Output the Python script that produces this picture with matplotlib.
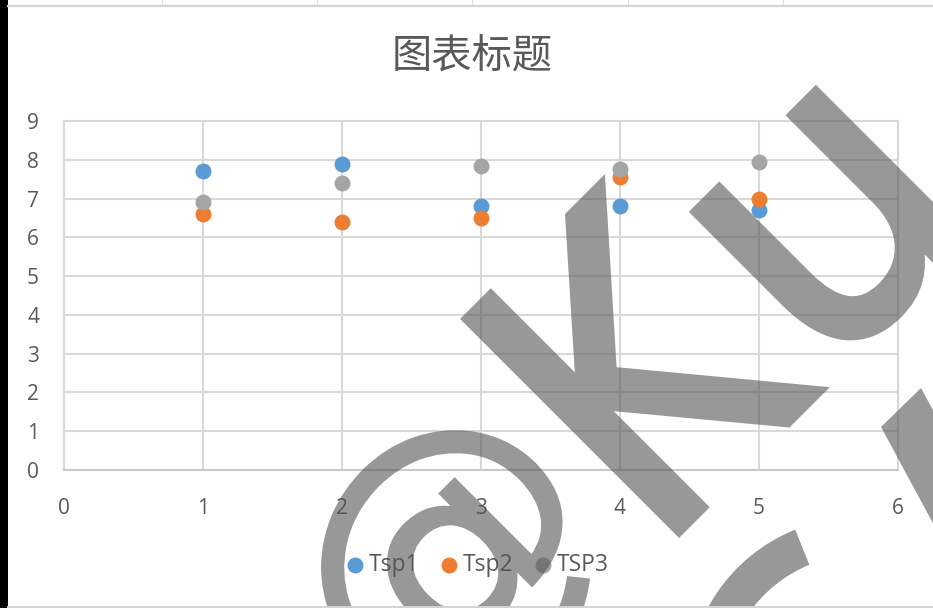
import numpy as np
import matplotlib
matplotlib.use("Agg")
import matplotlib.pyplot as plt
from matplotlib.lines import Line2D
from matplotlib.patches import PathPatch, Rectangle, Wedge, Polygon
from matplotlib.textpath import TextPath
from matplotlib.font_manager import FontProperties
from matplotlib.transforms import Affine2D

# ---- data ----
x_values = [1, 2, 3, 4, 5]
series_names = ["Tsp1", "Tsp2", "TSP3"]
tsp1 = [7.7, 7.9, 6.8, 6.8, 6.7]
tsp2 = [6.6, 6.4, 6.5, 7.55, 7.0]
tsp3 = [6.9, 7.4, 7.85, 7.75, 7.95]
series_colors = ["#5B9BD5", "#ED7D31", "#A5A5A5"]
x_ticks = [0, 1, 2, 3, 4, 5, 6]
y_ticks = [0, 1, 2, 3, 4, 5, 6, 7, 8, 9]
title_text = "图表标题"

W, H = 933, 608
TXT = "#595959"
GRID = "#d9d9d9"

plt.rcParams["font.family"] = ["Open Sans", "DejaVu Sans"]

fig = plt.figure(figsize=(W / 100, H / 100), dpi=100)
fig.patch.set_facecolor("white")

ax = fig.add_axes([64 / W, 1 - 470 / H, (898 - 64) / W, (470 - 121) / H])
ax.set_facecolor("none")
ax.set_xlim(0, 6)
ax.set_ylim(0, 9)
ax.set_xticks(x_ticks)
ax.set_yticks(y_ticks)
ax.grid(True, color=GRID, linewidth=1.5, zorder=0)
ax.set_axisbelow(True)
for side in ["top", "right", "left"]:
    ax.spines[side].set_color(GRID)
    ax.spines[side].set_linewidth(1.5)
ax.spines["bottom"].set_color("#c9c9c9")
ax.spines["bottom"].set_linewidth(1.5)
ax.tick_params(axis="both", length=0, labelsize=15, labelcolor=TXT)
ax.tick_params(axis="y", pad=18)
ax.tick_params(axis="x", pad=20)

for vals, name, col in zip([tsp1, tsp2, tsp3], series_names, series_colors):
    ax.scatter(x_values, vals, s=132, color=col, label=name, zorder=3,
               linewidths=0, clip_on=False)

fig.text(472 / W, 1 - 56 / H, title_text, ha="center", va="center",
         fontsize=29, color=TXT, family=["Noto Sans CJK SC", "DejaVu Sans"])

leg = ax.legend(loc="center", bbox_to_anchor=(476 / W, 1 - 565 / H),
                bbox_transform=fig.transFigure, ncol=3, frameon=False,
                fontsize=16.5, handletextpad=0.1, columnspacing=0.8,
                handlelength=1.0, borderpad=0)
for t in leg.get_texts():
    t.set_color(TXT)

# ---- window frame around the chart ----
fig.add_artist(Rectangle((0, 0), 8 / W, 1, transform=fig.transFigure,
                         facecolor="black", edgecolor="none", zorder=20))
fig.add_artist(Line2D([8 / W, 1], [1 - 5.5 / H] * 2, transform=fig.transFigure,
                      color="#d4d4d4", linewidth=1.6, zorder=20))
for cx in [162, 317, 472, 628, 783]:
    fig.add_artist(Line2D([cx / W] * 2, [1 - 5 / H, 1], transform=fig.transFigure,
                          color="#dcdcdc", linewidth=0.8, zorder=20))
fig.add_artist(Line2D([8 / W, 1], [1 - 607 / H] * 2, transform=fig.transFigure,
                      color="#d4d4d4", linewidth=1.4, zorder=20))

# ---- translucent overlay lettering ----
wm = plt.figure(figsize=(W / 100, H / 100), dpi=100)
wm.patch.set_alpha(0)
wax = wm.add_axes([0, 0, 1, 1])
wax.set_xlim(0, W)
wax.set_ylim(H, 0)
wax.axis("off")
wax.patch.set_alpha(0)
wm_color = (0.33, 0.33, 0.33)
glyphs = [
    # char, centre (px), width, height, extra stroke
    ("@", (454, 568), 262, None, 1.5),
    ("K", (643, 355), 198, 300, 7.0),
    ("u", (830, 226), 170, 220, 7.0),
]
fp = FontProperties(family="DejaVu Sans")
for ch, (cx, cy), tw, th, lw in glyphs:
    tp = TextPath((0, 0), ch, size=1, prop=fp)
    ext = tp.get_extents()
    if th is None:
        th = tw * ext.height / ext.width
    tr = (Affine2D()
          .translate(-(ext.x0 + ext.width / 2), -(ext.y0 + ext.height / 2))
          .scale(tw / ext.width, th / ext.height)
          .rotate_deg(45)
          .scale(1, -1)
          .translate(cx, cy))
    wax.add_patch(PathPatch(tr.transform_path(tp), facecolor=wm_color,
                            edgecolor=wm_color, linewidth=lw,
                            joinstyle="miter", transform=wax.transData))
# pieces of the next repeat of the lettering, cut by the frame edge
wax.add_patch(Wedge((860, 690), 173, 180, 248, width=38,
                    facecolor=wm_color, edgecolor="none"))
wax.add_patch(Polygon([(881, 427), (921, 388), (975, 488), (935, 527)],
                      closed=True, facecolor=wm_color, edgecolor="none"))
wm.canvas.draw()
overlay = np.asarray(wm.canvas.buffer_rgba()).copy()
overlay[..., 3] = (overlay[..., 3].astype(float) * 0.6).astype(np.uint8)
plt.close(wm)
fig.figimage(overlay, xo=0, yo=0, origin="upper", zorder=15)

fig.savefig("out.png", dpi=100, facecolor="white")
